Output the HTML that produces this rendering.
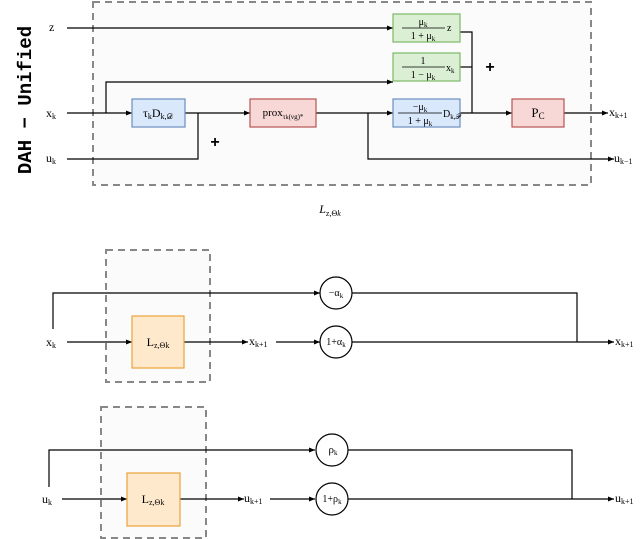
<!DOCTYPE html>
<html><head><meta charset="utf-8"><style>
body{margin:0;background:#fff}
svg{display:block}
text{font-family:"Liberation Serif",serif;font-size:12px;fill:#000}
.s{font-size:8px}
</style></head><body>
<svg width="640" height="539" viewBox="0 0 640 539" xmlns="http://www.w3.org/2000/svg">
<defs><marker id="a" markerWidth="6" markerHeight="6" refX="6" refY="3" orient="auto" markerUnits="userSpaceOnUse"><path d="M0,0.5 L6,3 L0,5.5 Z" fill="#000"/></marker></defs>
<!-- top panel -->
<rect x="93" y="2" width="498" height="183" fill="#fbfbfb" stroke="#888" stroke-width="2" stroke-dasharray="7,5"/>
<text x="31" y="100" transform="rotate(-90 31 100)" text-anchor="middle" style="font-family:'Liberation Mono',monospace;font-size:19px;font-weight:bold">DAH − Unified</text>
<g stroke="#000" stroke-width="1.2" fill="none">
<line x1="67" y1="28" x2="393" y2="28" marker-end="url(#a)"/>
<polyline points="106,113 106,82 393,82" marker-end="url(#a)"/>
<line x1="67" y1="113" x2="132" y2="113" marker-end="url(#a)"/>
<line x1="185" y1="113" x2="250" y2="113" marker-end="url(#a)"/>
<polyline points="67,159 198,159 198,113"/>
<line x1="316" y1="113" x2="393" y2="113" marker-end="url(#a)"/>
<polyline points="368,113 368,159 614,159" marker-end="url(#a)"/>
<polyline points="460,32 472,32 472,113"/>
<line x1="460" y1="67" x2="472" y2="67"/>
<line x1="460" y1="113" x2="512" y2="113" marker-end="url(#a)"/>
<line x1="564" y1="113" x2="608" y2="113" marker-end="url(#a)"/>
</g>
<rect x="393" y="14" width="67" height="28" fill="#dbefd5" stroke="#7cb866" stroke-width="1.2"/>
<rect x="393" y="53" width="67" height="28" fill="#dbefd5" stroke="#7cb866" stroke-width="1.2"/>
<rect x="132" y="99" width="53" height="28" fill="#dae8fc" stroke="#6c8ebf" stroke-width="1.2"/>
<rect x="250" y="99" width="66" height="28" fill="#f8d7d7" stroke="#b85450" stroke-width="1.2"/>
<rect x="393" y="99" width="67" height="28" fill="#dae8fc" stroke="#6c8ebf" stroke-width="1.2"/>
<rect x="512" y="99" width="52" height="28" fill="#f8d7d7" stroke="#b85450" stroke-width="1.2"/>
<g stroke="#000" stroke-width="0.8">
<line x1="402" y1="28" x2="445" y2="28"/><line x1="402" y1="67" x2="445" y2="67"/><line x1="398" y1="113" x2="442" y2="113"/>
</g>
<text x="423" y="25" text-anchor="middle" style="font-size:10px">μ<tspan font-size="7" dy="2">k</tspan></text>
<text x="423" y="39" text-anchor="middle" style="font-size:10px">1 + μ<tspan font-size="7" dy="2">k</tspan></text>
<text x="447" y="31" style="font-size:10px">z</text>
<text x="423" y="64" text-anchor="middle" style="font-size:10px">1</text>
<text x="423" y="78" text-anchor="middle" style="font-size:10px">1 − μ<tspan font-size="7" dy="2">k</tspan></text>
<text x="446" y="71" style="font-size:10px">x<tspan font-size="7" dy="2">k</tspan></text>
<text x="420" y="110" text-anchor="middle" style="font-size:10px">−μ<tspan font-size="7" dy="2">k</tspan></text>
<text x="420" y="124" text-anchor="middle" style="font-size:10px">1 + μ<tspan font-size="7" dy="2">k</tspan></text>
<text x="443" y="117" style="font-size:10px">D<tspan font-size="7" dy="2">k,𝒫</tspan></text>
<text x="158" y="117" text-anchor="middle">τ<tspan font-size="8" dy="2">k</tspan><tspan dy="-2">D</tspan><tspan font-size="8" dy="2">k,𝒟</tspan></text>
<text x="283" y="116" text-anchor="middle" style="font-size:11px">prox<tspan font-size="7" dy="3">τ<tspan font-size="6">k</tspan>(νg)*</tspan></text>
<text x="538" y="117" text-anchor="middle" style="font-size:13px">P<tspan font-size="9" dy="2">C</tspan></text>
<text x="49" y="31">z</text>
<text x="46" y="117">x<tspan font-size="8" dy="2">k</tspan></text>
<text x="46" y="162">u<tspan font-size="8" dy="2">k</tspan></text>
<text x="609" y="116">x<tspan font-size="8" dy="2">k+1</tspan></text>
<text x="614" y="162">u<tspan font-size="8" dy="2">k−1</tspan></text>
<text x="215" y="147" text-anchor="middle" style="font-size:16px;font-weight:bold;font-family:'Liberation Sans',sans-serif">+</text>
<text x="490" y="72" text-anchor="middle" style="font-size:16px;font-weight:bold;font-family:'Liberation Sans',sans-serif">+</text>
<text x="330" y="213" text-anchor="middle" style="font-style:italic">L<tspan font-size="8" dy="3" font-style="normal">z,Θ<tspan font-style="italic">k</tspan></tspan></text>
<!-- middle panel -->
<rect x="106" y="250" width="104" height="132" fill="#fbfbfb" stroke="#888" stroke-width="2" stroke-dasharray="7,5"/>
<g stroke="#000" stroke-width="1.2" fill="none">
<polyline points="53,329 53,293 320,293" marker-end="url(#a)"/>
<line x1="67" y1="342" x2="132" y2="342" marker-end="url(#a)"/>
<line x1="184" y1="342" x2="248" y2="342" marker-end="url(#a)"/>
<line x1="276" y1="342" x2="320" y2="342" marker-end="url(#a)"/>
<polyline points="352,293 577,293 577,342"/>
<line x1="352" y1="342" x2="614" y2="342" marker-end="url(#a)"/>
<circle cx="336" cy="293" r="16" fill="#fff"/>
<circle cx="336" cy="342" r="16" fill="#fff"/>
</g>
<rect x="132" y="316" width="52" height="52" fill="#ffe9cc" stroke="#e8a33a" stroke-width="1.2"/>
<text x="158" y="346" text-anchor="middle">L<tspan font-size="8" dy="2">z,Θ<tspan>k</tspan></tspan></text>
<text x="336" y="296" text-anchor="middle" style="font-size:10px">−α<tspan font-size="7" dy="2">k</tspan></text>
<text x="336" y="345" text-anchor="middle" style="font-size:10px">1+α<tspan font-size="7" dy="2">k</tspan></text>
<text x="46" y="346">x<tspan font-size="8" dy="2">k</tspan></text>
<text x="249" y="345">x<tspan font-size="8" dy="2">k+1</tspan></text>
<text x="615" y="345">x<tspan font-size="8" dy="2">k+1</tspan></text>
<!-- bottom panel -->
<rect x="101" y="407" width="105" height="131" fill="#fbfbfb" stroke="#888" stroke-width="2" stroke-dasharray="7,5"/>
<g stroke="#000" stroke-width="1.2" fill="none">
<polyline points="49,487 49,450 315,450" marker-end="url(#a)"/>
<line x1="62" y1="499" x2="127" y2="499" marker-end="url(#a)"/>
<line x1="180" y1="499" x2="244" y2="499" marker-end="url(#a)"/>
<line x1="270" y1="499" x2="315" y2="499" marker-end="url(#a)"/>
<polyline points="348,450 572,450 572,499"/>
<line x1="348" y1="499" x2="614" y2="499" marker-end="url(#a)"/>
<circle cx="332" cy="450" r="16" fill="#fff"/>
<circle cx="332" cy="499" r="16" fill="#fff"/>
</g>
<rect x="127" y="473" width="53" height="53" fill="#ffe9cc" stroke="#e8a33a" stroke-width="1.2"/>
<text x="153" y="503" text-anchor="middle">L<tspan font-size="8" dy="2">z,Θ<tspan>k</tspan></tspan></text>
<text x="333" y="453" text-anchor="middle" style="font-size:11px">ρ<tspan font-size="7" dy="2">k</tspan></text>
<text x="332" y="502" text-anchor="middle" style="font-size:10px">1+ρ<tspan font-size="7" dy="2">k</tspan></text>
<text x="42" y="503">u<tspan font-size="8" dy="2">k</tspan></text>
<text x="244" y="502">u<tspan font-size="8" dy="2">k+1</tspan></text>
<text x="615" y="502">u<tspan font-size="8" dy="2">k+1</tspan></text>
</svg>
</body></html>
